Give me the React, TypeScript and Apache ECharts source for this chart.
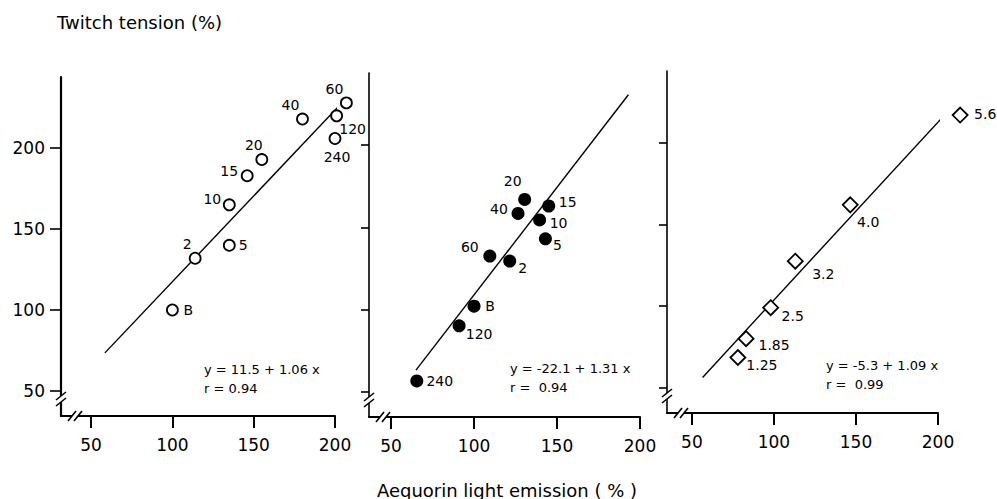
import { useEffect, useRef } from "react";
import * as echarts from "echarts";

const FONT = "DejaVu Sans";
const INK = "#000";

// Shared axis ranges and tick values
const tickValues = [50, 100, 150, 200];
const yMin = 34.5;
const yMax = 244;
const xMins = [31.5, 36.7, 34.8];
const xMax = 200;

// Panel 1: twitch tension vs aequorin light (open circles)
const openLabels = ["B", "2", "5", "10", "15", "20", "40", "60", "120", "240"];
const openX = [100, 114, 135, 135, 146, 155, 180, 207, 201, 200];
const openY = [100, 132, 140, 165, 183, 193, 218, 228, 220, 206];
const openFit = { a: 11.5, b: 1.06, r: "0.94", from: 58.5, to: 212 };

// Panel 2: filled circles
const filledLabels = ["B", "2", "5", "10", "15", "20", "40", "60", "120", "240"];
const filledX = [100, 121.5, 143, 139.5, 145, 130.5, 126.5, 109.5, 91, 65.5];
const filledY = [102, 129.5, 143, 154.5, 163, 167, 158.5, 132.5, 90, 56.5];
const filledFit = { a: -22.1, b: 1.31, r: " 0.94", from: 65, to: 193 };

// Panel 3: open diamonds
const diamondLabels = ["1.25", "1.85", "2.5", "3.2", "4.0", "5.6"];
const diamondX = [78, 83, 98, 113, 146.5, 213.5];
const diamondY = [68.5, 80, 99, 127.5, 162, 217];
const diamondFit = { a: -5.3, b: 1.09, r: " 0.99", from: 56.5, to: 212 };

// Label placement (pixel offsets from each marker's centre)
const openLabelOffsets = [[16, 0], [-8, -14], [14, 0], [-17, -6], [-18, -5], [-8, -15], [-12, -14], [-12, -14], [16, 13], [2, 19]];
const filledLabelOffsets = [[16, 0], [13, 7], [12, 6], [19, 3], [19, -4], [-12, -18], [-19, -4], [-20, -9], [20, 8], [23, 0]];
const diamondLabelOffsets = [[24, 8], [28, 6], [22, 8], [28, 13], [18, 17], [25, -1]];

// Grid boxes
const grids = [
  { left: 61, top: 77, width: 274, height: 339 },
  { left: 369, top: 73, width: 271, height: 344 },
  { left: 667, top: 71, width: 271, height: 342 },
];

const eqText = (f: { a: number; b: number }) => `y = ${f.a} + ${f.b} x`;

function pointData(xs: number[], ys: number[], labels: string[], offsets: number[][]) {
  return xs.map((x, i) => ({
    value: [x, ys[i]],
    name: labels[i],
    label: { offset: offsets[i] },
  }));
}

function fitLine(f: { a: number; b: number; from: number; to: number }) {
  return [
    [f.from, f.a + f.b * f.from],
    [f.to, f.a + f.b * f.to],
  ];
}

export default function App() {
  const ref = useRef<HTMLDivElement>(null);

  useEffect(() => {
    if (!ref.current) return;
    const chart = echarts.init(ref.current, undefined, { renderer: "svg" });

    const textStyle = { fontFamily: FONT, color: INK };

    const xAxis = grids.map((_, i) => ({
      type: "value" as const,
      gridIndex: i,
      min: xMins[i],
      max: xMax,
      splitLine: { show: false },
      axisLine: { show: true, lineStyle: { color: INK, width: 2 } },
      axisTick: { show: true, customValues: tickValues, length: 12, lineStyle: { color: INK, width: 2 } },
      axisLabel: { show: true, customValues: tickValues, margin: 20, fontSize: 17, ...textStyle },
    }));

    const yAxis = grids.map((_, i) => ({
      type: "value" as const,
      gridIndex: i,
      min: yMin,
      max: yMax,
      splitLine: { show: false },
      axisLine: { show: true, lineStyle: { color: INK, width: i === 0 ? 2.2 : 1.6 } },
      axisTick: { show: true, customValues: tickValues, length: i === 0 ? 11 : 8, lineStyle: { color: INK, width: 1.6 } },
      axisLabel: { show: i === 0, customValues: tickValues, margin: 16, fontSize: 17, ...textStyle },
    }));

    const scatterLabel = {
      show: true,
      position: "inside" as const,
      formatter: "{b}",
      fontSize: 14,
      ...textStyle,
    };

    const lineSeries = (idx: number, f: { a: number; b: number; from: number; to: number }) => ({
      type: "line" as const,
      xAxisIndex: idx,
      yAxisIndex: idx,
      data: fitLine(f),
      symbol: "none",
      clip: false,
      silent: true,
      lineStyle: { color: INK, width: 1.4 },
      z: 1,
    });

    const series = [
      lineSeries(0, openFit),
      lineSeries(1, filledFit),
      lineSeries(2, diamondFit),
      {
        type: "scatter" as const,
        xAxisIndex: 0,
        yAxisIndex: 0,
        clip: false,
        symbol: "circle",
        symbolSize: 11,
        itemStyle: { color: "#fff", borderColor: INK, borderWidth: 1.8, opacity: 1 },
        label: scatterLabel,
        data: pointData(openX, openY, openLabels, openLabelOffsets),
        z: 3,
      },
      {
        type: "scatter" as const,
        xAxisIndex: 1,
        yAxisIndex: 1,
        clip: false,
        symbol: "circle",
        symbolSize: 13,
        itemStyle: { color: INK, opacity: 1 },
        label: scatterLabel,
        data: pointData(filledX, filledY, filledLabels, filledLabelOffsets),
        z: 3,
      },
      {
        type: "scatter" as const,
        xAxisIndex: 2,
        yAxisIndex: 2,
        clip: false,
        symbol: "diamond",
        symbolSize: 15,
        itemStyle: { color: "#fff", borderColor: INK, borderWidth: 1.8, opacity: 1 },
        label: scatterLabel,
        data: pointData(diamondX, diamondY, diamondLabels, diamondLabelOffsets),
        z: 3,
      },
    ];

    const eqFont = `13px "${FONT}"`;
    const fits = [openFit, filledFit, diamondFit];
    const eqPos = [
      [204, 369],
      [510, 368],
      [826, 365],
    ];
    const equationTexts = fits.flatMap((f, i) => [
      {
        type: "text",
        x: eqPos[i][0],
        y: eqPos[i][1],
        style: { text: eqText(f), font: eqFont, fill: INK, textVerticalAlign: "middle" },
      },
      {
        type: "text",
        x: eqPos[i][0],
        y: eqPos[i][1] + 19,
        style: { text: `r = ${f.r}`, font: eqFont, fill: INK, textVerticalAlign: "middle" },
      },
    ]);

    const titles = [
      {
        type: "text",
        x: 57,
        y: 22,
        style: { text: "Twitch tension (%)", font: `18px "${FONT}"`, fill: INK, textVerticalAlign: "middle" },
      },
      {
        type: "text",
        x: 507,
        y: 490,
        style: {
          text: "Aequorin light emission ( % )",
          font: `18px "${FONT}"`,
          fill: INK,
          textAlign: "center",
          textVerticalAlign: "middle",
        },
      },
    ];

    chart.setOption({
      animation: false,
      backgroundColor: "#fff",
      grid: grids.map((g) => ({ ...g, containLabel: false })),
      xAxis,
      yAxis,
      series,
      graphic: [...titles, ...equationTexts],
    });

    // Axis break marks near each origin, placed from the axes' own scales
    const breaks: any[] = [];
    grids.forEach((_, i) => {
      const corner = chart.convertToPixel({ gridIndex: i }, [xMins[i], yMin]) as number[];
      const [cx, cy] = corner;
      const bx = cx + 14;
      const by = cy - 17;
      // gap in the x axis
      breaks.push({ type: "rect", shape: { x: bx - 3, y: cy - 3, width: 6, height: 6 }, style: { fill: "#fff" }, z: 50 });
      [-3, 3].forEach((d) =>
        breaks.push({
          type: "line",
          shape: { x1: bx + d - 4, y1: cy + 5, x2: bx + d + 4, y2: cy - 5 },
          style: { stroke: INK, lineWidth: 1.6 },
          z: 51,
        })
      );
      // gap in the y axis
      breaks.push({ type: "rect", shape: { x: cx - 3, y: by - 3, width: 6, height: 6 }, style: { fill: "#fff" }, z: 50 });
      [-3, 3].forEach((d) =>
        breaks.push({
          type: "line",
          shape: { x1: cx - 5, y1: by + d + 4, x2: cx + 5, y2: by + d - 4 },
          style: { stroke: INK, lineWidth: 1.6 },
          z: 51,
        })
      );
    });

    chart.setOption(
      { graphic: [...titles, ...equationTexts, ...breaks] },
      { replaceMerge: ["graphic"] }
    );

    return () => chart.dispose();
  }, []);

  return (
    <div
      ref={ref}
      style={{ position: "fixed", left: 0, top: 0, width: 997, height: 499, background: "#fff" }}
    />
  );
}
